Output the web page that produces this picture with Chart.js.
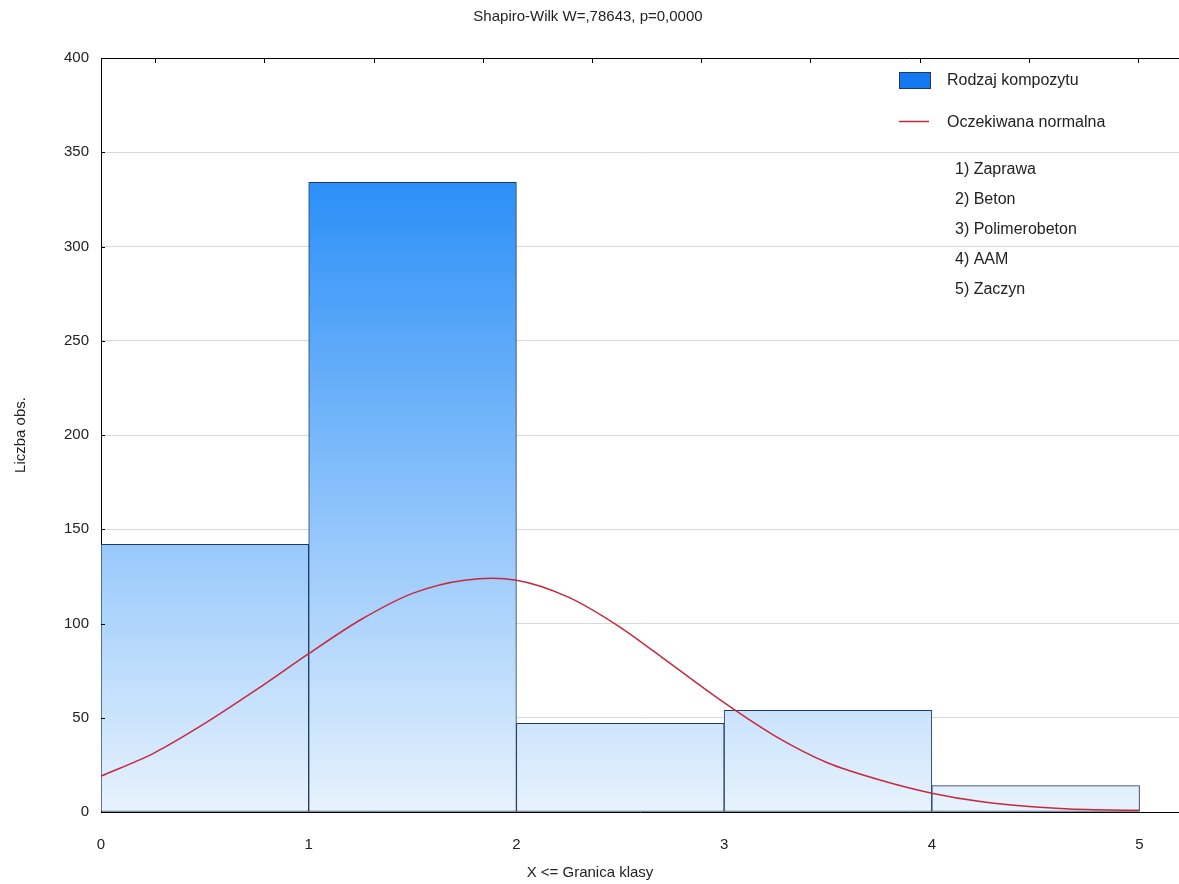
<!DOCTYPE html>
<html>
<head>
<meta charset="utf-8">
<script src="https://cdn.jsdelivr.net/npm/chart.js@4"></script>
<style>
  html, body { margin: 0; padding: 0; background: #fff; }
  #wrap { width: 1179px; height: 884px; position: relative; }
</style>
</head>
<body>
<div id="wrap"><canvas id="histChart"></canvas></div>
<script>
// Histogram data
const binCenters = [0.5, 1.5, 2.5, 3.5, 4.5];
const binCounts = [142, 334, 47, 54, 14];

// Expected normal curve
const curveX = [0, 0.25, 0.5, 0.75, 1, 1.25, 1.5, 1.75, 2, 2.25, 2.5, 2.75, 3, 3.25, 3.5, 3.75, 4, 4.25, 4.5, 4.75, 5];
const curveY = [19, 31, 47, 65, 84, 102, 116, 123, 123, 114, 98, 78, 58, 40, 26, 17, 10, 5.3, 2.7, 1.3, 0.9];

const xTicks = [0, 1, 2, 3, 4, 5];
const yTicks = [0, 50, 100, 150, 200, 250, 300, 350, 400];

const titleText = 'Shapiro-Wilk W=,78643, p=0,0000';
const xTitle = 'X <= Granica klasy';
const yTitle = 'Liczba obs.';
const legendLabels = ['Rodzaj kompozytu', 'Oczekiwana normalna'];
const groupNames = ['1) Zaprawa', '2) Beton', '3) Polimerobeton', '4) AAM', '5) Zaczyn'];

const FONT = '"Liberation Sans", Arial, sans-serif';
const TEXT = '#222';
const LINE_RED = 'rgb(200, 40, 60)';
const BAR_EDGE = '#1f3a5f';

function barGradient(context) {
    const chart = context.chart;
    const area = chart.chartArea;
    if (!area) return 'rgb(140,195,250)';
    const y = chart.scales.y;
    const g = chart.ctx.createLinearGradient(0, y.getPixelForValue(Math.max(...binCounts)), 0, y.getPixelForValue(0));
    g.addColorStop(0, 'rgb(43, 143, 248)');
    g.addColorStop(1, 'rgb(232, 243, 253)');
    return g;
}

// Texts, legend and frame decorations
const decorations = {
    id: 'decorations',
    afterDraw(chart) {
        const c = chart.ctx;
        const a = chart.chartArea;
        const ys = chart.scales.y;
        c.save();

        // top frame line with small inward ticks
        c.strokeStyle = '#000';
        c.lineWidth = 1;
        c.beginPath();
        c.moveTo(a.left, a.top + 0.5);
        c.lineTo(a.right, a.top + 0.5);
        for (let px = a.left + 54.2; px < a.right; px += 109.2) {
            c.moveTo(Math.round(px) + 0.5, a.top);
            c.lineTo(Math.round(px) + 0.5, a.top + 5);
        }
        // inward ticks on the y axis
        yTicks.forEach(v => {
            const py = Math.round(ys.getPixelForValue(v)) + 0.5;
            c.moveTo(a.left, py);
            c.lineTo(a.left + 4, py);
        });
        c.stroke();

        c.fillStyle = TEXT;
        c.textBaseline = 'middle';

        // title
        c.font = '15px ' + FONT;
        c.textAlign = 'center';
        c.fillText(titleText, 588, 17);

        // axis titles
        c.fillText(xTitle, 590, 873);
        c.save();
        c.translate(21, 435);
        c.rotate(-Math.PI / 2);
        c.fillText(yTitle, 0, 0);
        c.restore();

        // legend
        c.font = '16px ' + FONT;
        c.textAlign = 'left';
        c.fillStyle = 'rgb(20, 120, 240)';
        c.fillRect(899, 72, 31, 16);
        c.strokeStyle = BAR_EDGE;
        c.strokeRect(899.5, 72.5, 31, 16);
        c.fillStyle = TEXT;
        c.fillText(legendLabels[0], 947, 81);

        c.strokeStyle = LINE_RED;
        c.lineWidth = 1.5;
        c.beginPath();
        c.moveTo(899, 121.5);
        c.lineTo(929, 121.5);
        c.stroke();
        c.fillText(legendLabels[1], 947, 123);

        groupNames.forEach((name, i) => {
            c.fillText(name, 955, 170 + i * 30);
        });
        c.restore();
    }
};

const ctx = document.getElementById('histChart').getContext('2d');

const histChart = new Chart(ctx, {
    data: {
        datasets: [
            {
                type: 'line',
                label: legendLabels[1],
                data: curveX.map((x, i) => ({ x: x, y: curveY[i] })),
                borderColor: LINE_RED,
                borderWidth: 1.5,
                pointRadius: 0,
                tension: 0.3,
                fill: false,
                order: 0
            },
            {
                type: 'bar',
                label: legendLabels[0],
                data: binCenters.map((x, i) => ({ x: x, y: binCounts[i] })),
                backgroundColor: barGradient,
                borderColor: BAR_EDGE,
                borderWidth: 1,
                borderSkipped: false,
                barPercentage: 1,
                categoryPercentage: 1,
                grouped: false,
                order: 1
            }
        ]
    },
    options: {
        responsive: true,
        maintainAspectRatio: false,
        animation: false,
        layout: { padding: { top: 58, right: 0, left: 0, bottom: 0 } },
        plugins: {
            legend: { display: false },
            tooltip: { enabled: false }
        },
        scales: {
            x: {
                type: 'linear',
                offset: false,
                min: 0,
                max: 5.19,
                afterFit(scale) { scale.height = 72; },
                afterBuildTicks(scale) { scale.ticks = xTicks.map(v => ({ value: v })); },
                grid: { display: false, offset: false },
                border: { display: true, color: '#000', width: 1 },
                ticks: {
                    padding: 16,
                    color: TEXT,
                    font: { family: FONT, size: 15 }
                }
            },
            y: {
                min: 0,
                max: 400,
                afterFit(scale) { scale.width = 101; },
                afterBuildTicks(scale) { scale.ticks = yTicks.map(v => ({ value: v })); },
                grid: { color: '#d9d9d9', drawTicks: false },
                border: { display: true, color: '#000', width: 1 },
                ticks: {
                    padding: 12,
                    color: TEXT,
                    font: { family: FONT, size: 15 }
                }
            }
        }
    },
    plugins: [decorations]
});
</script>
</body>
</html>
